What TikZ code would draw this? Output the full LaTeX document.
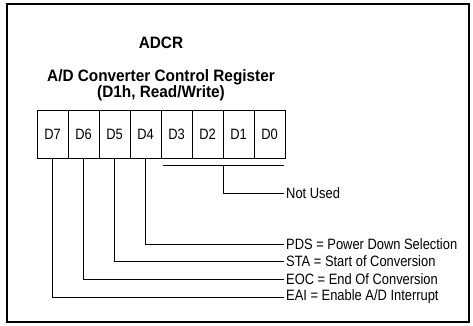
\documentclass[tikz,border=0pt]{standalone}
\usepackage{fontspec}
\setmainfont{Liberation Sans}[FakeStretch=0.86]
\newfontfamily\titlefont{Liberation Sans}[FakeStretch=0.93]
\begin{document}
\begin{tikzpicture}[x=1pt,y=-1pt,
  cell/.style={draw,line width=0.8pt,minimum width=31pt,minimum height=48pt,inner sep=0pt,font=\fontsize{15}{15}\selectfont},
  lbl/.style={anchor=west,inner sep=2pt,font=\fontsize{15}{15}\selectfont},
  conn/.style={line width=0.8pt},
  ttl/.style={font=\titlefont\fontsize{16.5}{15}\selectfont\bfseries,align=center,inner sep=0pt}]
\useasboundingbox (0,0) rectangle (473,325);
\draw[line width=1.1pt] (7,4) rectangle (469,322);
\node[ttl] (t1) at (161,43) {ADCR};
\node[ttl] (t2) at (161,85) {A/D Converter Control Register\\(D1h, Read/Write)};
\foreach \i/\n in {7/0,6/1,5/2,4/3,3/4,2/5,1/6,0/7}{
  \node[cell] (b\i) at ({52.5+31*\n},134) {D\i};
}
\node[lbl] (lnu) at (284,193.5) {Not Used};
\node[lbl] (l4) at (284,244) {PDS = Power Down Selection};
\node[lbl] (l5) at (284,261) {STA = Start of Conversion};
\node[lbl] (l6) at (284,279) {EOC = End Of Conversion};
\node[lbl] (l7) at (284,297) {EAI = Enable A/D Interrupt};
\coordinate (ba) at (163,165);
\coordinate (bb) at (284,165);
\coordinate (nu) at (223,165);
\draw[conn] (ba) -- (bb);
\draw[conn] (nu) |- (lnu.west);
\draw[conn] (b4.south) |- (l4.west);
\draw[conn] (b5.south) |- (l5.west);
\draw[conn] (b6.south) |- (l6.west);
\draw[conn] (b7.south) |- (l7.west);
\end{tikzpicture}
\end{document}
